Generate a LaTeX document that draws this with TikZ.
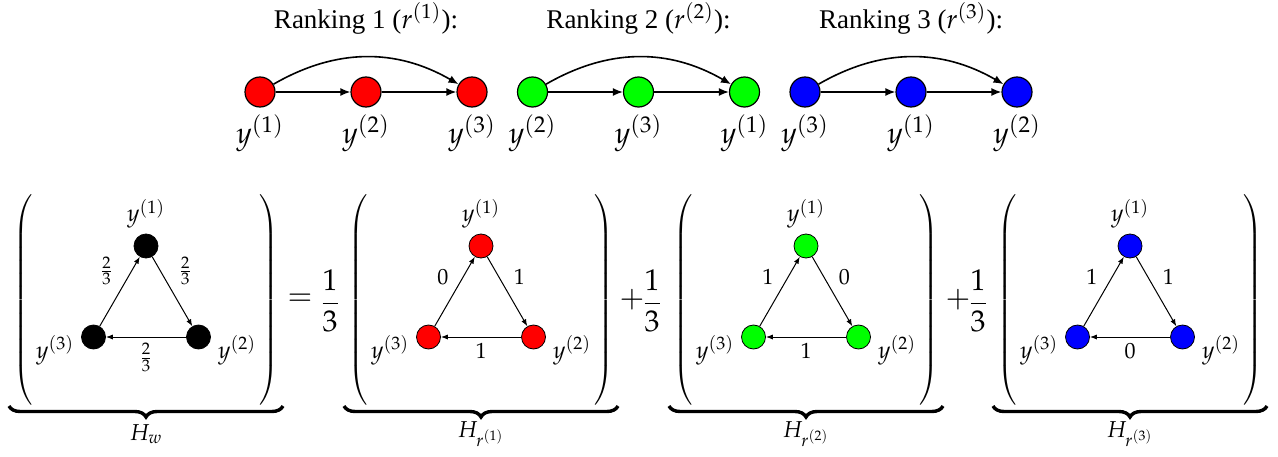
\documentclass[tikz,border=0pt]{standalone}
\usepackage{amsmath}
\usepackage{mathpazo}
\usepackage[no-math]{fontspec}
\newfontfamily\headfont{Liberation Serif}
\usepackage{tikz}
\usetikzlibrary{arrows.meta,positioning,calc,decorations.pathreplacing}
\usepackage{xcolor}

\begin{document}
\begin{tikzpicture}[x=0.5pt,y=0.5pt,
  rnode/.style={circle,draw,line width=0.6pt,minimum size=15pt,inner sep=0pt},
  tnode/.style={circle,draw,line width=0.4pt,minimum size=12pt,inner sep=0pt},
  rarrow/.style={-{Latex[length=5pt,width=4pt]},line width=0.8pt},
  tarrow/.style={-{Latex[length=3.5pt,width=2.6pt]},line width=0.5pt},
  rlab/.style={label distance=0pt,font=\fontsize{15}{17}\selectfont},
  tlab/.style={label distance=0pt,font=\fontsize{12}{14}\selectfont},
  blab/.style={tlab,yshift=-6.5pt},
  elabel/.style={font=\fontsize{11}{13}\selectfont,auto,inner sep=3pt},
  delim/.style={inner sep=0pt,font=\fontsize{11}{13}\selectfont},
  opnode/.style={inner sep=0pt,font=\fontsize{15}{18}\selectfont},
  hbrace/.style={decorate,decoration={brace,mirror,amplitude=5.5pt},line width=1.7pt}]

  \useasboundingbox (0,0) rectangle (1278,456);

  \foreach \col/\a/\b/\c [count=\n] in {red/1/2/3,green/2/3/1,blue/3/1/2}{
    \pgfmathsetmacro{\xo}{260+272.5*(\n-1)}
    \node[font=\headfont\fontsize{13.5}{16}\selectfont] (head\n) at (\xo+106,438) {Ranking \n\ ($r^{(\n)}$):};
    \node[rnode,fill=\col,label={[rlab]below:$y^{(\a)}$}] (r\n-1) at (\xo,364) {};
    \node[rnode,fill=\col,label={[rlab]below:$y^{(\b)}$}] (r\n-2) at (\xo+106,364) {};
    \node[rnode,fill=\col,label={[rlab]below:$y^{(\c)}$}] (r\n-3) at (\xo+212,364) {};
    \draw[rarrow] (r\n-1) -- (r\n-2);
    \draw[rarrow] (r\n-2) -- (r\n-3);
    \draw[rarrow] (r\n-1) to[bend left=30] (r\n-3);
  }

  \foreach \cx/\col/\hl/\la/\lb/\lc [count=\m] in {
      146/black/w/\frac{2}{3}/\frac{2}{3}/\frac{2}{3},
      481/red/r^{(1)}/0/1/1,
      806/green/r^{(2)}/1/0/1,
      1130/blue/r^{(3)}/1/1/0}{
    \node[tnode,fill=\col,label={[tlab,label distance=-1pt]above:$y^{(1)}$}] (t\m-1) at (\cx,210) {};
    \node[tnode,fill=\col,label={[blab]right:$y^{(2)}$}] (t\m-2) at (\cx+52.5,119) {};
    \node[tnode,fill=\col,label={[blab]left:$y^{(3)}$}] (t\m-3) at (\cx-52.5,119) {};
    \draw[tarrow] (t\m-3) -- node[elabel] {$\la$} (t\m-1);
    \draw[tarrow] (t\m-1) -- node[elabel] {$\lb$} (t\m-2);
    \draw[tarrow] (t\m-2) -- node[elabel] {$\lc$} (t\m-3);
    \node[delim] (lp\m) at (\cx-122,156) {$\left(\vrule height 50pt depth 50pt width 0pt\right.$};
    \node[delim] (rp\m) at (\cx+122,156) {$\left.\vrule height 50pt depth 50pt width 0pt\right)$};
    \draw[hbrace] (\cx-137,50) -- (\cx+137,50);
    \node[font=\fontsize{11.5}{13}\selectfont] (h\m) at (\cx,22) {$H_{\hl}$};
  }

  \node[opnode] (eq) at (300,156) {$=$};
  \node[opnode] (f1) at (330,155) {$\dfrac{1}{3}$};
  \node[opnode] (p2) at (632,156) {$+$};
  \node[opnode] (f2) at (652,155) {$\dfrac{1}{3}$};
  \node[opnode] (p3) at (958,156) {$+$};
  \node[opnode] (f3) at (978,155) {$\dfrac{1}{3}$};
\end{tikzpicture}
\end{document}
